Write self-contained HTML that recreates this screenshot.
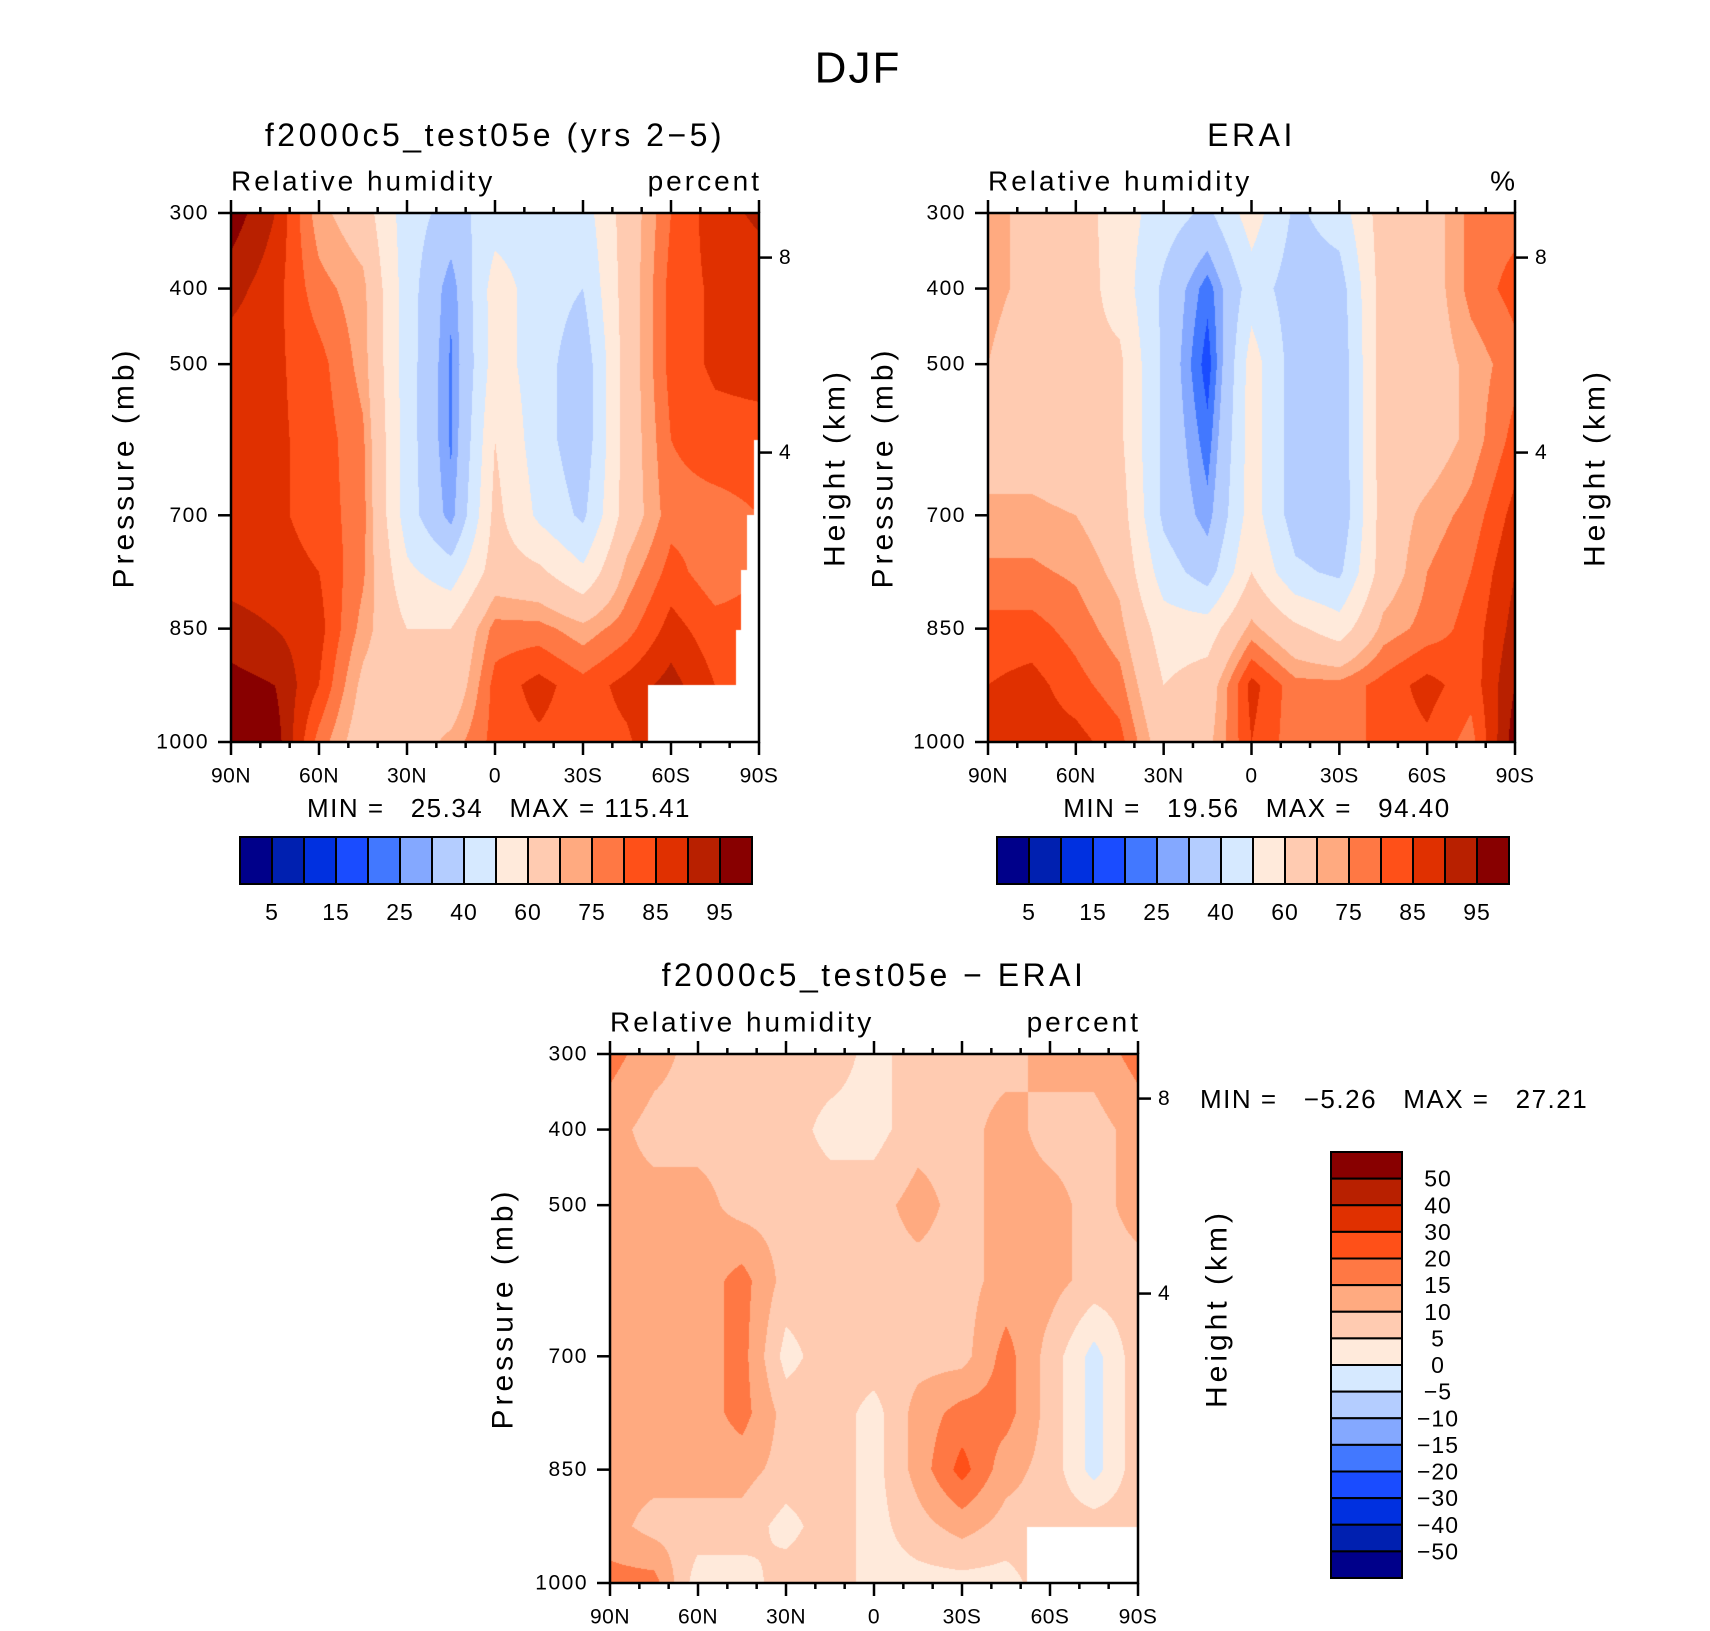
<!DOCTYPE html>
<html><head><meta charset="utf-8"><style>
html,body{margin:0;padding:0;background:#fff;}
body{width:1710px;height:1631px;position:relative;overflow:hidden;font-family:"Liberation Sans",sans-serif;}
canvas{position:absolute;}
#ov{position:absolute;left:0;top:0;}
</style></head><body>
<canvas id="c1" width="528" height="529" style="left:231px;top:213px"></canvas>
<canvas id="c2" width="527" height="529" style="left:988px;top:213px"></canvas>
<canvas id="c3" width="528" height="529" style="left:610px;top:1054px"></canvas>
<svg id="ov" width="1710" height="1631" xmlns="http://www.w3.org/2000/svg"></svg>
<script>
// ---- data ----
const latLabels = ['90N','60N','30N','0','30S','60S','90S'];
const pressTicks = [300,400,500,700,850,1000];
const heightTicks = [8,4];
const heightP = [359,617];
const rowsP = [300,400,500,600,700,775,850,925,1000];
const absLevels = [5,10,15,20,25,30,40,50,60,70,75,80,85,90,95];
const absLabels = ['5','15','25','40','60','75','85','95'];
const diffLevels = [-50,-40,-30,-20,-15,-10,-5,0,5,10,15,20,30,40,50];
const diffLabels = ['50','40','30','20','15','10','5','0','\u22125','\u221210','\u221215','\u221220','\u221230','\u221240','\u221250'];
const palette = ['#00008a','#0020b0','#0030e0','#1a4cff','#4278ff','#84a8ff','#b4cdff','#d6e9ff','#ffeadb','#ffcbb1','#ffaa80','#ff7844','#ff5018','#e03000','#b82000','#880000'];
// columns: 90N,75N,60N,45N,30N,15N,0,15S,30S,45S,60S,75S,90S ; rows: rowsP
const modelRH = [
[98,92,87,87,87,88,92,97,98],
[90,87,86,86,86,87,90,95,98],
[72,77,82,83,83,85,87,85,78],
[65,72,73,76,77,76,73,68,65],
[45,45,45,45,45,52,60,62,65],
[36,26,24,24,27,45,60,63,72],
[45,55,55,60,63,65,77,82,82],
[45,45,45,45,48,62,77,87,84],
[45,40,33,33,38,52,72,82,82],
[65,65,65,65,65,72,78,87,84],
[80,82,82,80,78,82,87,92,92],
[88,86,86,83,78,77,82,85,85],
[91,87,87,83,80,80,82,85,85]];
const eraiRH = [
[72,72,70,65,72,76,82,85,88],
[68,68,65,65,72,76,82,87,88],
[65,65,62,62,70,74,78,82,87],
[55,56,62,62,65,68,72,77,82],
[45,38,38,38,38,45,55,60,65],
[38,22,17,22,27,35,55,65,68],
[55,45,55,55,55,60,72,87,85],
[38,35,35,35,35,42,62,77,77],
[45,35,33,33,32,38,55,77,77],
[65,65,65,65,65,65,72,82,82],
[65,65,65,65,72,75,77,87,84],
[77,77,72,72,77,80,82,82,78],
[78,82,78,82,87,90,92,95,98]];
const diffRH = [
[17,12,12,12,12,12,12,12,17],
[12,8,12,12,12,12,12,8,17],
[8,8,12,12,12,12,12,8,2],
[8,8,8,17,17,17,12,8,2],
[8,8,8,8,3,8,8,3,8],
[8,3,8,8,8,8,8,8,8],
[3,3,8,8,8,3,3,3,3],
[8,8,12,8,8,12,12,8,3],
[8,8,8,8,8,17,22,12,3],
[8,12,12,12,17,17,12,8,3],
[12,8,12,12,8,8,8,8,8],
[12,8,8,8,-2,-2,-2,8,8],
[17,12,12,8,8,8,8,8,8]];
// missing-data regions: [latFracStart, pressureStart]
const missing1 = [[0.79,925],[0.991,600],[0.977,700],[0.965,773],[0.957,852]];
const missing3 = [[0.79,926]];

function sample(grid, fx, p){
  const cx = fx*12; let i = Math.min(11, Math.floor(cx)); const tx = cx - i;
  let j = 0; while (j < rowsP.length-2 && p > rowsP[j+1]) j++;
  const ty = (p - rowsP[j])/(rowsP[j+1]-rowsP[j]);
  const a = grid[i][j]*(1-tx)+grid[i+1][j]*tx;
  const b = grid[i][j+1]*(1-tx)+grid[i+1][j+1]*tx;
  return a*(1-ty)+b*ty;
}
function cls(v, levels){ let k=0; while(k<levels.length && v>=levels[k]) k++; return k; }
function hex(h){ return [parseInt(h.substr(1,2),16),parseInt(h.substr(3,2),16),parseInt(h.substr(5,2),16)]; }
const palRGB = palette.map(hex);
function fill(id, grid, levels, miss){
  const c = document.getElementById(id), ctx = c.getContext('2d');
  const W=c.width, H=c.height, img=ctx.createImageData(W,H);
  for(let y=0;y<H;y++){ const p = 300 + (y+0.5)/H*700;
    for(let x=0;x<W;x++){ const fx=(x+0.5)/W;
      let col = palRGB[cls(sample(grid,fx,p),levels)];
      for(const m of miss){ if(fx>=m[0] && p>=m[1]) { col=[255,255,255]; } }
      const o=(y*W+x)*4; img.data[o]=col[0]; img.data[o+1]=col[1]; img.data[o+2]=col[2]; img.data[o+3]=255; }
  }
  ctx.putImageData(img,0,0);
}
fill('c1', modelRH, absLevels, missing1);
fill('c2', eraiRH, absLevels, []);
fill('c3', diffRH, diffLevels, missing3);

const svg = document.getElementById('ov'); const NS='http://www.w3.org/2000/svg';
function mk(tag, at){ const e=document.createElementNS(NS,tag); for(const k in at) e.setAttribute(k,at[k]); svg.appendChild(e); return e; }
function txt(s,x,y,size,anchor,rot,ls){
  const e=mk('text',{x:x,y:y,'font-size':size,'text-anchor':anchor||'middle','dominant-baseline':'central',fill:'#000','font-family':'Liberation Sans, sans-serif'});
  if(ls) e.setAttribute('letter-spacing', ls);
  if(rot) e.setAttribute('transform','rotate(-90 '+x+' '+y+')');
  e.style.whiteSpace='pre';
  e.textContent=s; return e;
}
function axes(name, L, T, W, H, sub2, pressX, heightX, title, titleY){
  const fr = mk('rect',{x:L,y:T,width:W,height:H,fill:'none',stroke:'#000','stroke-width':2.5});
  
  
  for(let d=0; d<=180; d+=10){
    const x = L + d/180*W; const len = (d%30===0)?13:6;
    const tb = mk('line',{x1:x,y1:T+H,x2:x,y2:T+H+len,stroke:'#000','stroke-width':2.5});
    
    
    const tt = mk('line',{x1:x,y1:T,x2:x,y2:T-len,stroke:'#000','stroke-width':2.5});
    
    
  }
  latLabels.forEach((s,i)=>{ const e=txt(s, L+i/6*W, T+H+34, 21, 'middle', false, 0.5);
    
     });
  pressTicks.forEach(p=>{ const y=T+(p-300)/700*H;
    const l=mk('line',{x1:L-13,y1:y,x2:L,y2:y,stroke:'#000','stroke-width':2.5});
    
    
    const e=txt(String(p), L-22, y, 21, 'end', false, 1.5);
    
     });
  heightTicks.forEach((h,i)=>{ const y=T+(heightP[i]-300)/700*H;
    const l=mk('line',{x1:L+W,y1:y,x2:L+W+13,y2:y,stroke:'#000','stroke-width':2.5});
    
    
    const e=txt(String(h), L+W+20, y, 21, 'start');
    
     });
  const pt=txt('Pressure (mb)', pressX, T+H/2-10, 30, 'middle', true, 4);
  
  
  const ht=txt('Height (km)', heightX, T+H/2-10, 30, 'middle', true, 4);
  
  
  const s1=txt('Relative humidity', L, T-32, 28, 'start', false, 3);
  
  
  const s2=txt(sub2, L+W+3, T-32, 28, 'end', false, 3);
  
  
  const tl=txt(title, L+W/2, titleY, 32, 'middle', false, 3.5);
  
  
}
axes('model-panel',231,213,528,529,'percent',124,835,'f2000c5_test05e (yrs 2\u22125)',135);
axes('erai-panel',988,213,527,529,'%',883,1595,'ERAI',135);
axes('diff-panel',610,1054,528,529,'percent',503,1217,'f2000c5_test05e \u2212 ERAI',975);

const dj=txt('DJF',858,68,44,'middle',false,2); 

const m1=txt('MIN =   25.34   MAX = 115.41',499,808,26,'middle',false,1.5); 

const m2=txt('MIN =   19.56   MAX =   94.40',1257,808,26,'middle',false,1.5); 

const m3=txt('MIN =   \u22125.26   MAX =   27.21',1200,1099,26,'start',false,1.5); 


function hbar(name,L,T,W,H){
  const bw=W/16;
  palette.forEach((c,i)=>{ const r=mk('rect',{x:L+i*bw,y:T,width:bw,height:H,fill:c,stroke:'#000','stroke-width':2});
    
     });
  absLabels.forEach((s,k)=>{ const e=txt(s, L+(2*k+1)*bw, T+H+28, 23, 'middle', false, 1);
    
     });
}
hbar('model-colorbar',240,837,512,47);
hbar('erai-colorbar',997,837,512,47);
(function(){ const L=1331,T=1152,W=71,H=426,bh=H/16;
  palette.slice().reverse().forEach((c,i)=>{ const r=mk('rect',{x:L,y:T+i*bh,width:W,height:bh,fill:c,stroke:'#000','stroke-width':2});
    
     });
  diffLabels.forEach((s,k)=>{ const e=txt(s, L+W+36, T+(k+1)*bh, 23, 'middle', false, 1);
    
     });
})();
</script>
</body></html>
